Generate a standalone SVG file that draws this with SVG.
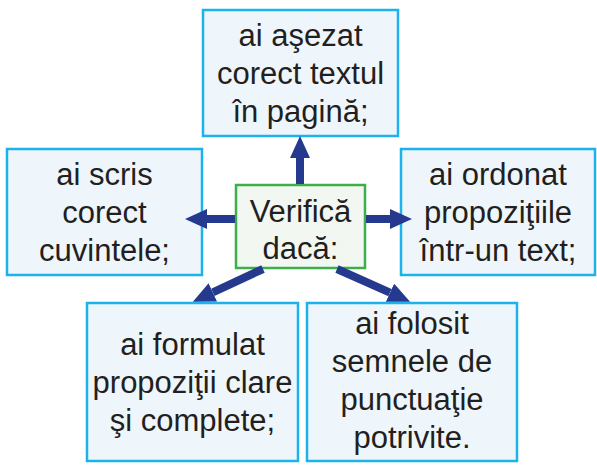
<svg xmlns="http://www.w3.org/2000/svg" width="597" height="465" viewBox="0 0 597 465">
<style>
.box{fill:#eef6fc;stroke:#1cb3ec;stroke-width:2.5}
.center{fill:#f2f7f1;stroke:#3daf4a;stroke-width:2.5}
text{font-family:"Liberation Sans",Arial,sans-serif;font-size:31px;fill:#231f20;text-anchor:middle}
.conn{stroke:#253a8e;stroke-width:8;fill:none;marker-end:url(#ah)}
</style>
<defs>
<marker id="ah" markerUnits="userSpaceOnUse" markerWidth="24" markerHeight="22" refX="0" refY="10" orient="auto">
<path d="M0,0 L22,10 L0,20 z" fill="#253a8e"/>
</marker>
</defs>
<rect width="597" height="465" fill="#ffffff"/>
<g id="node-top">
<rect class="box" x="203" y="10" width="195" height="126"/>
<text x="300.5" y="46">ai aşezat</text>
<text x="300.5" y="84">corect textul</text>
<text x="300.5" y="122">în pagină;</text>
</g>
<g id="node-left">
<rect class="box" x="7" y="149" width="195" height="126"/>
<text x="104.5" y="185">ai scris</text>
<text x="104.5" y="223">corect</text>
<text x="104.5" y="261">cuvintele;</text>
</g>
<g id="node-right">
<rect class="box" x="401" y="149" width="194" height="126"/>
<text x="498" y="185">ai ordonat</text>
<text x="498" y="223">propoziţiile</text>
<text x="498" y="261">într-un text;</text>
</g>
<g id="node-bottom-left">
<rect class="box" x="87" y="303" width="211" height="158"/>
<text x="192.5" y="355">ai formulat</text>
<text x="192.5" y="393">propoziţii clare</text>
<text x="192.5" y="431">şi complete;</text>
</g>
<g id="node-bottom-right">
<rect class="box" x="307" y="303" width="210" height="158"/>
<text x="412" y="334">ai folosit</text>
<text x="412" y="372">semnele de</text>
<text x="412" y="410">punctuaţie</text>
<text x="412" y="448">potrivite.</text>
</g>
<g id="node-center">
<rect class="center" x="236" y="185" width="129" height="83"/>
<text x="300.5" y="222">Verifică</text>
<text x="300.5" y="259">dacă:</text>
</g>
<g id="connectors">
<line class="conn" x1="300" y1="184" x2="300" y2="158"/>
<line class="conn" x1="235" y1="219" x2="207" y2="219"/>
<line class="conn" x1="366" y1="219" x2="390" y2="219"/>
<line class="conn" x1="263" y1="269" x2="212.8" y2="292.4"/>
<line class="conn" x1="337" y1="269" x2="390" y2="292.7"/>
</g>
</svg>
